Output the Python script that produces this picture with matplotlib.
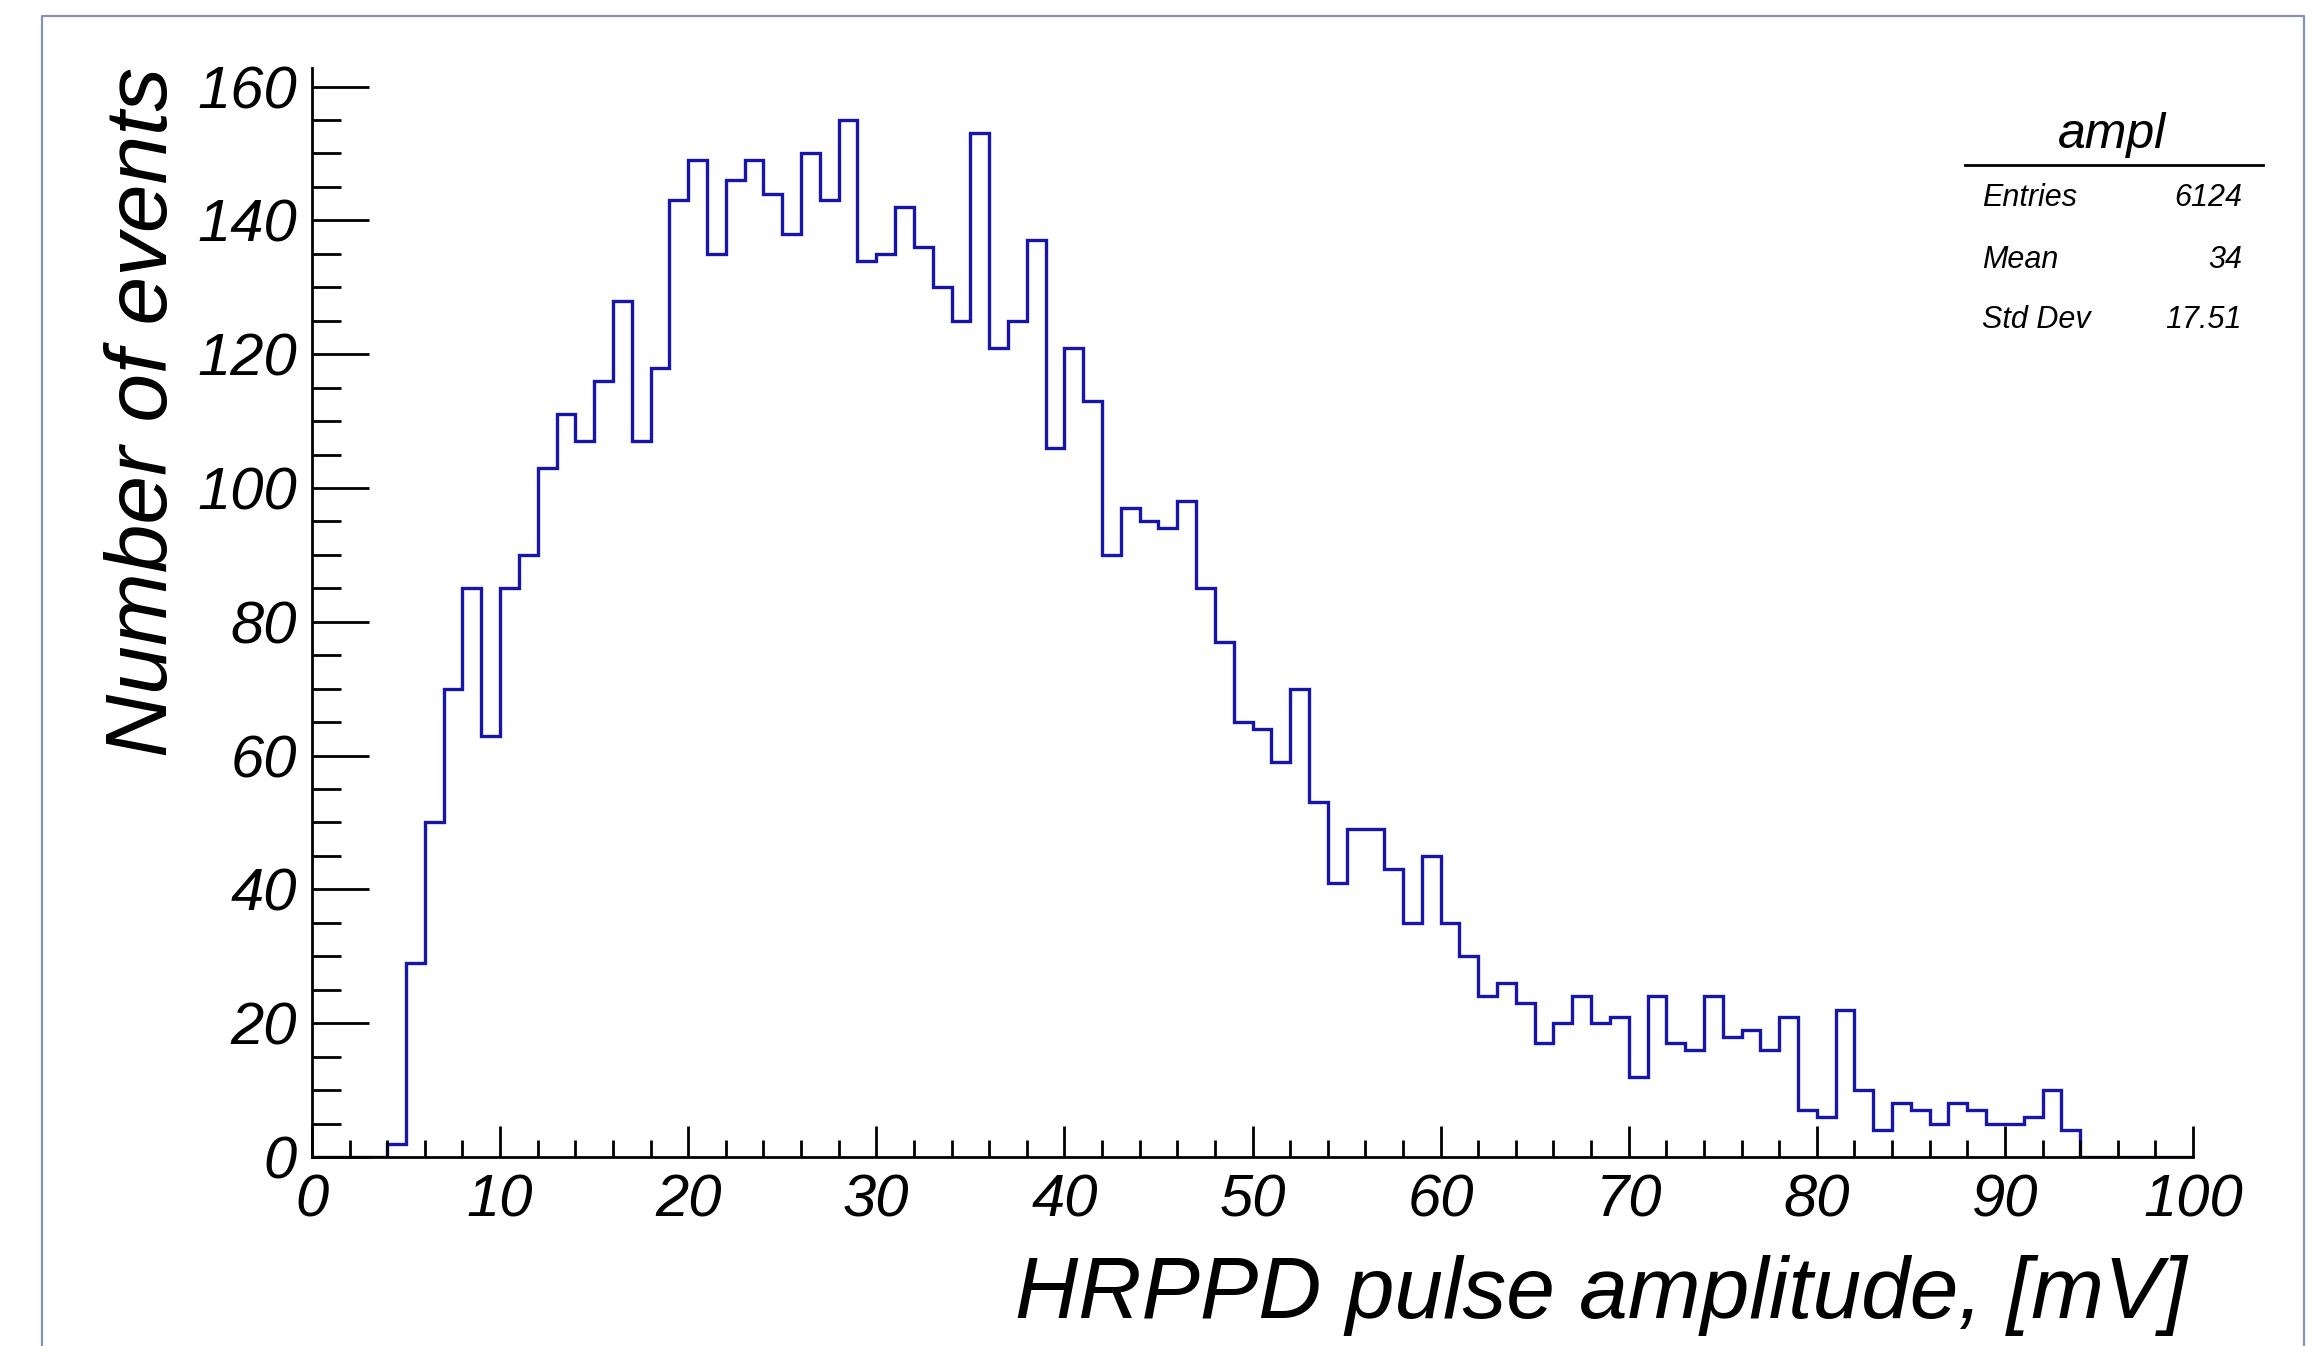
import matplotlib
matplotlib.use("Agg")
import matplotlib.pyplot as plt
from matplotlib.lines import Line2D
from matplotlib.ticker import MultipleLocator

# Histogram "ampl": 1 mV bins from 0 to 100 mV
bin_edges = list(range(0, 101))
counts = [
    0, 0, 0, 0, 2, 29, 50, 70, 85, 63,
    85, 90, 103, 111, 107, 116, 128, 107, 118, 143,
    149, 135, 146, 149, 144, 138, 150, 143, 155, 134,
    135, 142, 136, 130, 125, 153, 121, 125, 137, 106,
    121, 113, 90, 97, 95, 94, 98, 85, 77, 65,
    64, 59, 70, 53, 41, 49, 49, 43, 35, 45,
    35, 30, 24, 26, 23, 17, 20, 24, 20, 21,
    12, 24, 17, 16, 24, 18, 19, 16, 21, 7,
    6, 22, 10, 4, 8, 7, 5, 8, 7, 5,
    5, 6, 10, 4, 0, 0, 0, 0, 0, 0,
]

hist_name = "ampl"
stat_names = ["Entries", "Mean", "Std Dev"]
stat_values = ["6124", "34", "17.51"]

x_title = "HRPPD pulse amplitude, [mV]"
y_title = "Number of events"
x_range = (0, 100)
y_range = (0, 162.75)

plt.rcParams["font.family"] = ["Liberation Sans", "DejaVu Sans"]
plt.rcParams["font.style"] = "italic"

W, H = 2320, 1346
fig = plt.figure(figsize=(W / 100, H / 100), dpi=100)
fig.patch.set_facecolor("white")


def fx(px):
    return px / W


def fy(py):
    return 1 - py / H


# axes box in pixel coordinates of the canvas
x0, x1 = 312, 2193
y0 = 1157
y_top = 68.2
ax = fig.add_axes([fx(x0), fy(y0), fx(x1) - fx(x0), fy(y_top) - fy(y0)])
ax.set_xlim(*x_range)
ax.set_ylim(*y_range)

ax.stairs(counts, bin_edges, color="#1616aa", linewidth=2.4, zorder=1)

for side in ("top", "right"):
    ax.spines[side].set_visible(False)
for side in ("left", "bottom"):
    ax.spines[side].set_linewidth(2.0)
    ax.spines[side].set_color("black")
    ax.spines[side].set_zorder(3)

ax.xaxis.set_major_locator(MultipleLocator(10))
ax.xaxis.set_minor_locator(MultipleLocator(2))
ax.yaxis.set_major_locator(MultipleLocator(20))
ax.yaxis.set_minor_locator(MultipleLocator(5))

ax.tick_params(axis="both", which="both", direction="in", color="black", width=2.0)
ax.tick_params(axis="x", which="major", length=22.5, pad=12, labelsize=43)
ax.tick_params(axis="x", which="minor", length=12.5)
ax.tick_params(axis="y", which="major", length=41, pad=11, labelsize=43)
ax.tick_params(axis="y", which="minor", length=21)

# axis titles
fig.text(fx(2187), fy(1318), x_title, fontsize=63, ha="right", va="baseline")
fig.text(fx(167), fy(67), y_title, fontsize=63, rotation=90,
         ha="right", va="baseline", rotation_mode="anchor")

# statistics box
fig.text(fx(2112), fy(148), hist_name, fontsize=36, ha="center", va="baseline")
fig.add_artist(Line2D([fx(1965), fx(2263)], [fy(165), fy(165)],
                      transform=fig.transFigure, color="black", linewidth=2.0))
for name, val, base in zip(stat_names, stat_values, [206, 268, 328]):
    fig.text(fx(1982), fy(base), name, fontsize=22, ha="left", va="baseline")
    fig.text(fx(2242), fy(base), val, fontsize=22, ha="right", va="baseline")

# canvas border
border = "#8592b8"
fig.add_artist(Line2D([fx(42), fx(42), fx(2304), fx(2304)],
                      [fy(1346), fy(16), fy(16), fy(1346)],
                      transform=fig.transFigure, color=border, linewidth=1.6))

fig.savefig("out.png", dpi=100, facecolor="white")
